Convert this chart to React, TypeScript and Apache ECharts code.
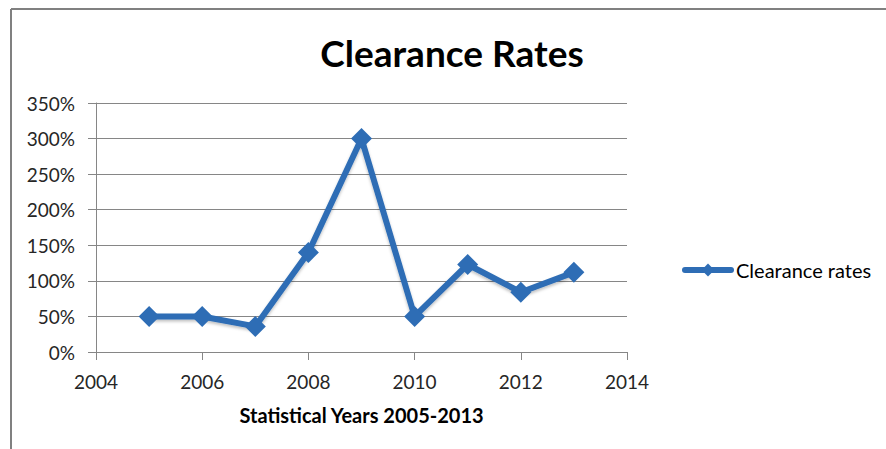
import React, { useEffect, useRef } from "react";
import * as echarts from "echarts";

const years = [2005, 2006, 2007, 2008, 2009, 2010, 2011, 2012, 2013];
const rates = [50, 50, 36, 140, 300, 50, 123, 84, 112];
const seriesName = "Clearance rates";
const titleText = "Clearance Rates";
const xAxisName = "Statistical Years 2005-2013";

export default function App() {
  const ref = useRef<HTMLDivElement>(null);
  useEffect(() => {
    if (!ref.current) return;
    const chart = echarts.init(ref.current, undefined, { renderer: "svg" });
    const font = "Lato, 'Open Sans', sans-serif";
    chart.setOption({
      animation: false,
      backgroundColor: "#ffffff",
      textStyle: { fontFamily: font },
      title: {
        text: titleText,
        left: 447,
        textAlign: "center",
        top: 29,
        textStyle: { fontFamily: font, fontSize: 37, fontWeight: "bold", color: "#000000" },
      },
      graphic: [
        { type: "line", shape: { x1: 11, y1: 9, x2: 886, y2: 9 }, style: { stroke: "#808080", lineWidth: 2 } },
        { type: "line", shape: { x1: 11, y1: 9, x2: 11, y2: 449 }, style: { stroke: "#808080", lineWidth: 2 } },
      ],
      legend: {
        left: 677,
        top: 255,
        itemWidth: 46,
        itemHeight: 16,
        itemGap: 2,
        lineStyle: { width: 6, cap: "round" },
        textStyle: { fontFamily: font, fontSize: 20, color: "#000000" },
        data: [seriesName],
      },
      grid: { left: 96, right: 259, top: 103, bottom: 97 },
      xAxis: {
        type: "value",
        min: 2004,
        max: 2014,
        interval: 2,
        name: xAxisName,
        nameLocation: "middle",
        nameGap: 53,
        nameTextStyle: { fontFamily: font, fontSize: 20, fontWeight: "bold", color: "#000000" },
        axisLine: { show: true, lineStyle: { color: "#868686", width: 1 } },
        axisTick: { show: true, length: 8, lineStyle: { color: "#868686" } },
        axisLabel: { fontSize: 19, color: "#262626", margin: 20, fontFamily: font, formatter: (v: number) => String(v) },
        splitLine: { show: false },
      },
      yAxis: {
        type: "value",
        min: 0,
        max: 350,
        interval: 50,
        axisLine: { show: true, lineStyle: { color: "#868686", width: 1 } },
        axisTick: { show: true, length: 8, lineStyle: { color: "#868686" } },
        axisLabel: { fontSize: 19, color: "#262626", margin: 21, fontFamily: font, formatter: "{value}%" },
        splitLine: { show: true, lineStyle: { color: "#868686", width: 1 } },
      },
      series: [
        {
          name: seriesName,
          type: "line",
          data: years.map((y, i) => [y, rates[i]]),
          symbol: "diamond",
          symbolSize: 21,
          lineStyle: { color: "#2E6DB5", width: 6, shadowColor: "rgba(0,0,0,0.25)", shadowBlur: 3, shadowOffsetY: 2 },
          itemStyle: { color: "#2E6DB5" },
        },
      ],
    });
    return () => chart.dispose();
  }, []);
  return <div ref={ref} style={{ position: "absolute", left: 0, top: 0, width: 886, height: 449 }} />;
}
